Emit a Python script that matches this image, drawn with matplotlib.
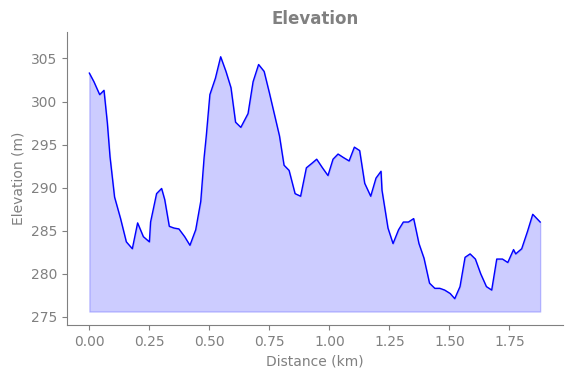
import numpy as np
import matplotlib.pyplot as plt

# distance (km) and elevation (m) read from the profile
distance = [0.0, 0.019, 0.043, 0.061, 0.075, 0.086, 0.105, 0.130, 0.154, 0.179,
            0.201, 0.225, 0.25, 0.255, 0.280, 0.301, 0.314, 0.333, 0.353, 0.373,
            0.397, 0.419, 0.443, 0.464, 0.478, 0.487, 0.502, 0.525, 0.547, 0.569,
            0.590, 0.609, 0.631, 0.661, 0.682, 0.705, 0.728, 0.750, 0.771, 0.792,
            0.811, 0.832, 0.857, 0.880, 0.904, 0.926, 0.947, 0.971, 0.994, 1.015,
            1.036, 1.058, 1.082, 1.104, 1.126, 1.147, 1.172, 1.194, 1.215, 1.219,
            1.244, 1.265, 1.288, 1.308, 1.329, 1.351, 1.373, 1.394, 1.417, 1.439,
            1.460, 1.480, 1.503, 1.522, 1.544, 1.565, 1.586, 1.608, 1.630, 1.654,
            1.676, 1.697, 1.721, 1.743, 1.767, 1.776, 1.801, 1.825, 1.847, 1.878]
elevation = [303.3, 302.3, 300.8, 301.3, 297.5, 293.6, 288.9, 286.4, 283.7, 282.9,
             285.9, 284.3, 283.7, 286.0, 289.3, 289.9, 288.6, 285.5, 285.3, 285.2,
             284.3, 283.3, 285.1, 288.4, 293.5, 296.0, 300.8, 302.7, 305.2, 303.5,
             301.6, 297.6, 297.0, 298.6, 302.3, 304.3, 303.5, 301.0, 298.5, 296.0,
             292.6, 292.0, 289.3, 289.0, 292.3, 292.8, 293.3, 292.3, 291.4, 293.3,
             293.9, 293.5, 293.1, 294.7, 294.3, 290.5, 289.0, 291.1, 291.9, 289.7,
             285.3, 283.5, 285.1, 286.0, 286.0, 286.4, 283.5, 281.8, 278.9, 278.3,
             278.3, 278.1, 277.7, 277.1, 278.5, 281.9, 282.3, 281.7, 280.0, 278.5,
             278.1, 281.7, 281.7, 281.3, 282.8, 282.3, 282.9, 284.9, 286.9, 286.0]

grey = "#808080"

fig, ax = plt.subplots(figsize=(5.71, 3.78), dpi=100)
fig.subplots_adjust(left=0.117, right=0.9855, top=0.915, bottom=0.14)

base = min(elevation) - 1.5
ax.fill_between(distance, elevation, base, color="blue", alpha=0.2)
ax.plot(distance, elevation, color="blue", lw=1)

ax.set_ylim(274.03, 308.06)
ax.set_yticks([275, 280, 285, 290, 295, 300, 305])
ax.set_xticks([0, 0.25, 0.5, 0.75, 1.0, 1.25, 1.5, 1.75])

ax.set_title("Elevation", color=grey, fontweight="bold", fontsize=12)
ax.set_xlabel("Distance (km)", color=grey)
ax.set_ylabel("Elevation (m)", color=grey)

for side in ["top", "right"]:
    ax.spines[side].set_visible(False)
for side in ["left", "bottom"]:
    ax.spines[side].set_color(grey)
ax.tick_params(colors=grey, labelcolor=grey)

fig.savefig("out.png")
